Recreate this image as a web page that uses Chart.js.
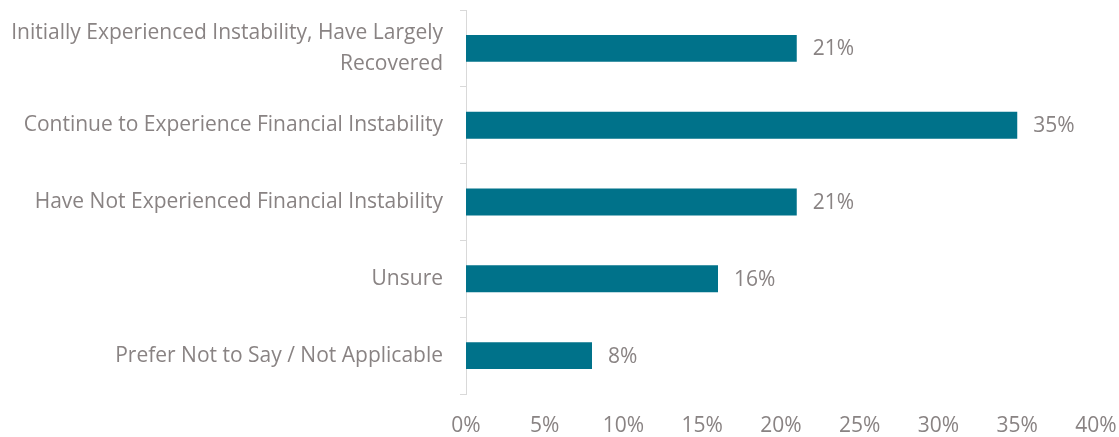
<!DOCTYPE html>
<html>
<head>
<meta charset="utf-8">
<script src="https://cdn.jsdelivr.net/npm/chart.js@4"></script>
<style>
  html, body { margin: 0; padding: 0; background: #fff; }
  #wrap { width: 1119px; height: 437px; }
</style>
</head>
<body>
<div id="wrap"><canvas id="myChart" width="1119" height="437"></canvas></div>
<script>
// 카테고리 / 값
const categories = [
    ['Initially Experienced Instability, Have Largely', 'Recovered'],
    'Continue to Experience Financial Instability',
    'Have Not Experienced Financial Instability',
    'Unsure',
    'Prefer Not to Say / Not Applicable'
];
const shares = [21, 35, 21, 16, 8];
const xTicks = [0, 5, 10, 15, 20, 25, 30, 35, 40];

const textColor = '#898383';
const fontFamily = '"Open Sans", sans-serif';
const fontSize = 21;

// 막대 끝에 값 표시
const valueLabels = {
    id: 'valueLabels',
    afterDatasetsDraw(chart) {
        const ctx = chart.ctx;
        const meta = chart.getDatasetMeta(0);
        ctx.save();
        ctx.font = fontSize + 'px ' + fontFamily;
        ctx.fillStyle = textColor;
        ctx.textAlign = 'left';
        ctx.textBaseline = 'middle';
        meta.data.forEach((bar, i) => {
            ctx.fillText(shares[i] + '%', bar.x + 16, bar.y + 1);
        });
        ctx.restore();
    }
};

const ctx = document.getElementById('myChart').getContext('2d');
new Chart(ctx, {
    type: 'bar',
    data: {
        labels: categories,
        datasets: [{
            data: shares,
            backgroundColor: '#00728a',
            categoryPercentage: 1,
            barPercentage: 0.35
        }]
    },
    options: {
        indexAxis: 'y',
        responsive: false,
        animation: false,
        layout: { padding: { top: 10, right: 23, left: 0, bottom: 0 } },
        plugins: {
            legend: { display: false },
            tooltip: { enabled: false }
        },
        scales: {
            x: {
                min: 0,
                max: 40,
                afterBuildTicks: scale => {
                    scale.ticks = xTicks.map(v => ({ value: v }));
                },
                afterFit: scale => {
                    scale.height = 43;
                    scale.paddingLeft = 0;
                    scale.paddingRight = 0;
                },
                grid: { display: false },
                border: { display: false },
                ticks: {
                    padding: 11,
                    color: textColor,
                    font: { size: fontSize, family: fontFamily },
                    callback: v => v + '%'
                }
            },
            y: {
                afterFit: scale => {
                    scale.width = 466;
                    scale.paddingTop = 0;
                    scale.paddingBottom = 0;
                },
                grid: {
                    offset: true,
                    drawOnChartArea: false,
                    drawTicks: true,
                    tickLength: 6,
                    color: '#d9d9d9'
                },
                border: { display: true, color: '#d9d9d9', width: 1 },
                ticks: {
                    padding: 17,
                    color: textColor,
                    font: { size: fontSize, family: fontFamily, lineHeight: 1.45 }
                }
            }
        }
    },
    plugins: [valueLabels]
});
</script>
</body>
</html>
